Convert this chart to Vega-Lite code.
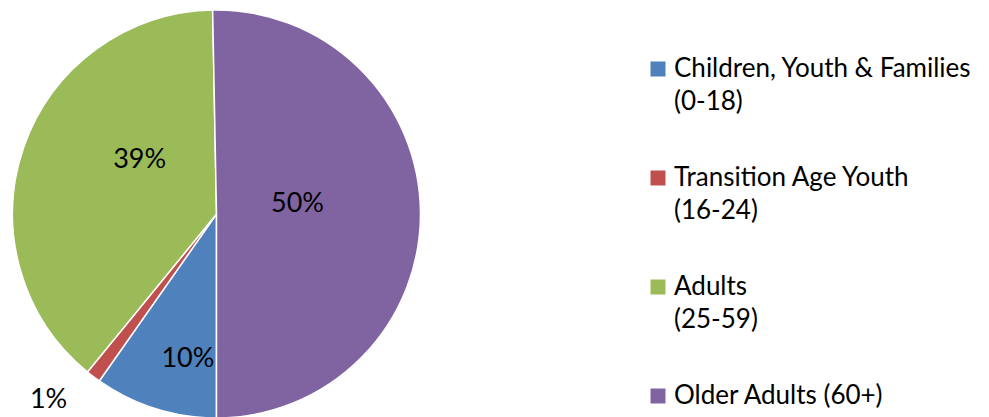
{
  "$schema": "https://vega.github.io/schema/vega-lite/v6.json",
  "width": 433,
  "height": 406,
  "autosize": {"type": "none"},
  "padding": {"left": 0, "top": 11, "right": 556, "bottom": 0},
  "background": "white",
  "config": {"view": {"stroke": null}, "font": "Lato", "style": {"guide-label": {"lineHeight": 33}}},
  "data": {"values": [
    {"group": "Children, Youth & Families|(0-18)", "share": 0.0974, "order": 1},
    {"group": "Transition Age  Youth|(16-24)", "share": 0.0116, "order": 2},
    {"group": "Adults|(25-59)", "share": 0.3880, "order": 3},
    {"group": "Older Adults (60+)", "share": 0.5030, "order": 4}
  ]},
  "encoding": {
    "theta": {"field": "share", "type": "quantitative", "stack": true, "scale": {"range": [3.14159265, 9.42477796]}},
    "order": {"field": "order", "type": "quantitative"}
  },
  "layer": [
    {
      "mark": {"type": "arc", "outerRadius": 204, "stroke": "white", "strokeWidth": 1.5},
      "encoding": {
        "color": {
          "field": "group", "type": "nominal",
          "scale": {
            "domain": ["Children, Youth & Families|(0-18)", "Transition Age  Youth|(16-24)", "Adults|(25-59)", "Older Adults (60+)"],
            "range": ["#4F81BD", "#C0504D", "#9BBB59", "#8064A2"]
          },
          "legend": {
            "orient": "none", "legendX": 645, "legendY": 45, "title": null,
            "symbolType": "square", "symbolSize": 225, "symbolStrokeWidth": 0,
            "labelFontSize": 26, "labelFont": "Lato", "labelColor": "black",
            "labelExpr": "split(datum.label, '|')", "labelLimit": 0, "labelOffset": 3,
            "rowPadding": 50
          }
        }
      }
    },
    {
      "mark": {"type": "text", "radius": 81, "dy": -9, "fontSize": 27, "font": "Lato"},
      "encoding": {
        "detail": {"field": "group"},
        "color": {"value": "black"},
        "text": {"condition": {"test": "datum.order == 4", "field": "share", "format": ".0%"}, "value": ""}
      }
    },
    {
      "mark": {"type": "text", "radius": 94, "dx": 12, "dy": -23, "fontSize": 27, "font": "Lato"},
      "encoding": {
        "detail": {"field": "group"},
        "color": {"value": "black"},
        "text": {"condition": {"test": "datum.order == 3", "field": "share", "format": ".0%"}, "value": ""}
      }
    },
    {
      "mark": {"type": "text", "radius": 148, "dx": 16, "dy": 4, "fontSize": 27, "font": "Lato"},
      "encoding": {
        "detail": {"field": "group"},
        "color": {"value": "black"},
        "text": {"condition": {"test": "datum.order == 1", "field": "share", "format": ".0%"}, "value": ""}
      }
    },
    {
      "mark": {"type": "text", "radius": 230, "dx": -29, "dy": 3, "fontSize": 27, "font": "Lato"},
      "encoding": {
        "detail": {"field": "group"},
        "color": {"value": "black"},
        "text": {"condition": {"test": "datum.order == 2", "field": "share", "format": ".0%"}, "value": ""}
      }
    }
  ]
}
